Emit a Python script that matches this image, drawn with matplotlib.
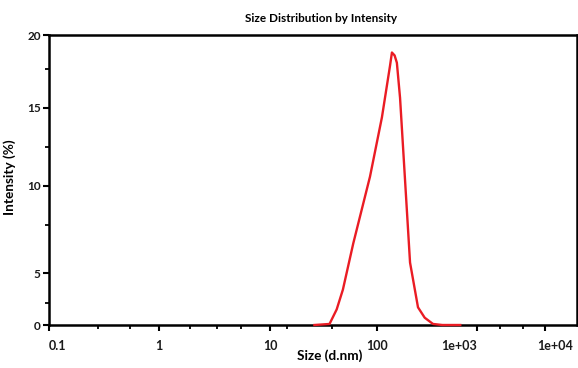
import numpy as np
import matplotlib.pyplot as plt
from matplotlib.ticker import FixedLocator, FixedFormatter, NullFormatter
from matplotlib.transforms import ScaledTranslation

plt.rcParams['font.family'] = ['Lato', 'DejaVu Sans']

# size distribution
size_nm = [26, 36, 42, 48, 60, 86, 112, 135, 141, 150, 158, 170, 214, 257, 300, 363, 450, 680]
intensity = [0.0, 0.1, 1.5, 3.4, 6.7, 10.6, 14.4, 17.9, 18.8, 18.6, 18.1, 15.7, 5.6, 1.7, 0.7, 0.1, 0.0, 0.0]

x_ticks = [0.1, 1, 10, 100, 1000, 10000]
x_labels = ['0.1', '1', '10', '100', '1e+03', '1e+04']
x_label_ha = ['left', 'center', 'center', 'center', 'right', 'left']
x_minor = [0.28, 0.54, 1.9, 3.3, 5.5, 14.5, 38, 2200, 4800]
y_ticks = [0, 5, 10, 15, 20]
y_minor = [2.1, 7.75, 12.5, 17.7]

# the scanned axes are not evenly spaced: decade -> pixel position as drawn
x_knots_log = [-2, -1, 0, 1, 2, 3, 4, 5]
x_knots_pix = [-61, 49, 159, 270, 377, 477, 545, 613]
y_knots_val = [-5, 0, 5, 10, 15, 20, 25]
y_knots_pix = [-52, 0, 52, 139, 217, 290, 363]


def x_fwd(x):
    x = np.clip(np.asarray(x, dtype=float), 1e-6, None)
    return np.interp(np.log10(x), x_knots_log, x_knots_pix)


def x_inv(p):
    return 10 ** np.interp(p, x_knots_pix, x_knots_log)


def y_fwd(y):
    return np.interp(y, y_knots_val, y_knots_pix)


def y_inv(p):
    return np.interp(p, y_knots_pix, y_knots_val)


def main():
    fig = plt.figure(figsize=(5.78, 3.68), dpi=100)
    ax = fig.add_axes([49 / 578, 43 / 368, 528 / 578, 290 / 368])

    ax.plot(size_nm, intensity, c='#ea1c24', lw=1.7, zorder=3, clip_on=False)

    ax.set_xscale('function', functions=(x_fwd, x_inv))
    ax.set_yscale('function', functions=(y_fwd, y_inv))
    ax.set_xlim(0.1, 10 ** (4 + 32 / 68))
    ax.set_ylim(0, 20)

    ax.xaxis.set_major_locator(FixedLocator(x_ticks))
    ax.xaxis.set_major_formatter(FixedFormatter(x_labels))
    ax.xaxis.set_minor_locator(FixedLocator(x_minor))
    ax.xaxis.set_minor_formatter(NullFormatter())
    ax.yaxis.set_major_locator(FixedLocator(y_ticks))
    ax.yaxis.set_major_formatter(FixedFormatter([str(v) for v in y_ticks]))
    ax.yaxis.set_minor_locator(FixedLocator(y_minor))
    ax.yaxis.set_minor_formatter(NullFormatter())

    for s in ax.spines.values():
        s.set_linewidth(1.8)
        s.set_color('black')

    ax.tick_params(which='major', direction='out', length=4, width=1.5, pad=2)
    ax.tick_params(which='minor', direction='out', length=3, width=1.3)
    ax.tick_params(axis='x', which='major', labelsize=9, pad=7)
    ax.tick_params(axis='y', which='major', labelsize=8.5)
    for lab in ax.get_xticklabels() + ax.get_yticklabels():
        lab.set_fontweight('bold')
        lab.set_color('#1a1a1a')
    for lab, ha in zip(ax.get_xticklabels(), x_label_ha):
        lab.set_horizontalalignment(ha)
    # last label sits hard against the right edge in the scan
    last = ax.get_xticklabels()[-1]
    last.set_transform(last.get_transform() + ScaledTranslation(-6 / 72, 0, fig.dpi_scale_trans))

    ax.set_xlabel('Size (d.nm)', fontsize=9.8, fontweight='bold')
    ax.xaxis.set_label_coords(0.532, -0.085)
    ax.set_ylabel('Intensity (%)', fontsize=9.8, fontweight='bold')
    ax.yaxis.set_label_coords(-0.062, 0.51)
    ax.set_title('Size Distribution by Intensity', fontsize=8.5, fontweight='bold',
                 x=0.515, pad=9)

    fig.savefig('out.png', dpi=100)


if __name__ == "__main__":
    main()
